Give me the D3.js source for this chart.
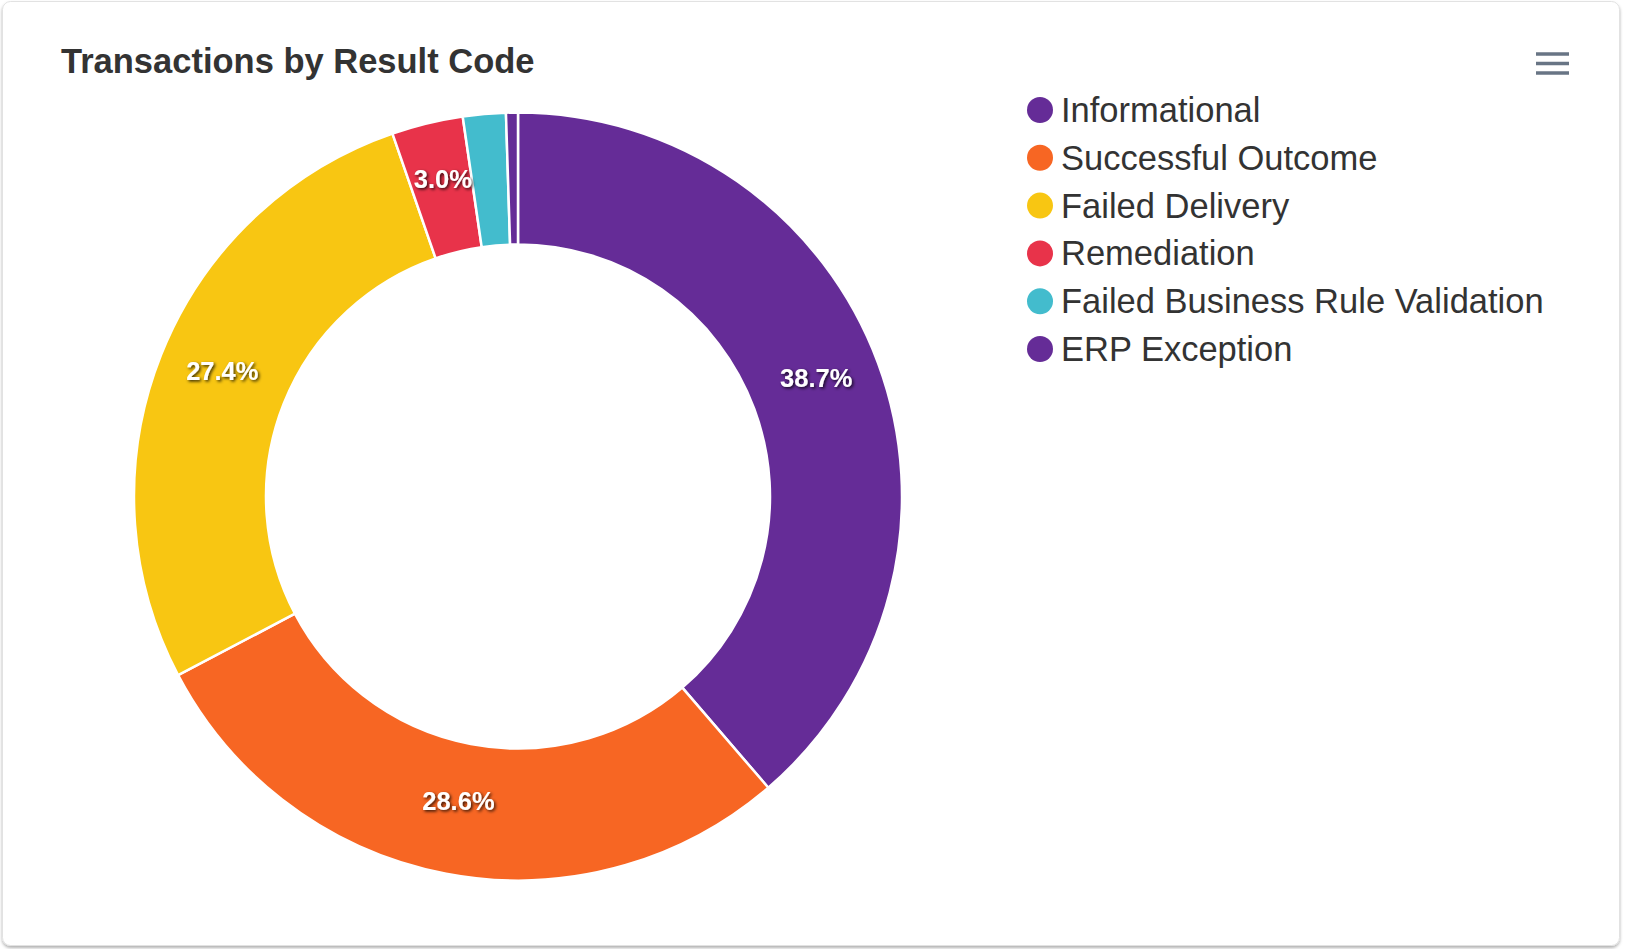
<!DOCTYPE html>
<html>
<head>
<meta charset="utf-8">
<script src="https://cdn.jsdelivr.net/npm/d3@7"></script>
<style>
    body { margin: 0; background: #ffffff; font-family: 'Liberation Sans', Arial, sans-serif; }
    svg { display: block; }
</style>
</head>
<body>
<svg id="mainFrame"></svg>
<script>
const categories = ['Informational', 'Successful Outcome', 'Failed Delivery', 'Remediation', 'Failed Business Rule Validation', 'ERP Exception'];
const values = [38.7, 28.6, 27.4, 3.0, 1.8, 0.5];
const colors = ['#652c97', '#f76623', '#f8c612', '#e8334a', '#43bccd', '#652c97'];
const titleText = 'Transactions by Result Code';

const width = 1625, height = 949;

const svg = d3.select('#mainFrame')
    .attr('width', width)
    .attr('height', height);

const data = categories.map((c, i) => ({ name: c, value: values[i], color: colors[i] }));

const defs = svg.append('defs');
const cardShadow = defs.append('filter').attr('id', 'cardShadow')
    .attr('x', '-5%').attr('y', '-5%').attr('width', '110%').attr('height', '110%');
cardShadow.append('feDropShadow')
    .attr('dx', 0).attr('dy', 2).attr('stdDeviation', 1.5)
    .attr('flood-color', '#000').attr('flood-opacity', 0.3);

const labelShadow = defs.append('filter').attr('id', 'labelShadow')
    .attr('x', '-20%').attr('y', '-40%').attr('width', '140%').attr('height', '180%');
labelShadow.append('feDropShadow')
    .attr('dx', 1.5).attr('dy', 1.5).attr('stdDeviation', 1.6)
    .attr('flood-color', '#000').attr('flood-opacity', 0.8);

// card background
svg.append('rect')
    .attr('x', 2.5).attr('y', 1.5)
    .attr('width', 1617).attr('height', 944)
    .attr('rx', 8)
    .attr('fill', '#fff')
    .attr('stroke', '#e2e2e2')
    .attr('filter', 'url(#cardShadow)');

// title
svg.append('text')
    .attr('x', 61)
    .attr('y', 73)
    .attr('font-size', 34.5)
    .attr('font-weight', 'bold')
    .attr('fill', '#333333')
    .text(titleText);

// hamburger menu
const menu = svg.append('g').attr('stroke', '#687585').attr('stroke-width', 3.5);
[54, 63.5, 73].forEach(y => {
    menu.append('line').attr('x1', 1536).attr('x2', 1569).attr('y1', y).attr('y2', y);
});

// donut
const cx = 518, cy = 496.5;
const outerR = 384, innerR = 252;

const pie = d3.pie()
    .value(d => d.value)
    .sort(null);                        // keep series order, clockwise from top

const arc = d3.arc()
    .innerRadius(innerR)
    .outerRadius(outerR);

const g = svg.append('g')
    .attr('transform', `translate(${cx},${cy})`);

const arcs = pie(data);

g.selectAll('path').data(arcs)
    .enter().append('path')
        .attr('d', arc)
        .attr('fill', d => d.data.color)
        .attr('stroke', '#ffffff')
        .attr('stroke-width', 2.5)
        .attr('stroke-linejoin', 'round');

const total = d3.sum(values);

// labels only for slices big enough to hold them
g.selectAll('text.label').data(arcs.filter(d => d.data.value / total >= 0.025))
    .enter().append('text')
        .attr('class', 'label')
        .attr('transform', d => {
            const [x, y] = arc.centroid(d);
            return `translate(${x},${y - 8})`;
        })
        .attr('text-anchor', 'middle')
        .attr('dy', '0.35em')
        .attr('font-size', 25.5)
        .attr('font-weight', 'bold')
        .attr('fill', '#ffffff')
        .attr('filter', 'url(#labelShadow)')
        .text(d => `${(d.data.value / total * 100).toFixed(1)}%`);

// legend
const legend = svg.append('g')
    .attr('transform', 'translate(1040,110)');

const items = legend.selectAll('g').data(data)
    .enter().append('g')
        .attr('transform', (d, i) => `translate(0,${i * 47.8})`);

items.append('circle')
    .attr('r', 13)
    .attr('fill', d => d.color);

items.append('text')
    .attr('x', 21)
    .attr('y', 12)
    .attr('font-size', 34.5)
    .attr('fill', '#333333')
    .text(d => d.name);
</script>
</body>
</html>
